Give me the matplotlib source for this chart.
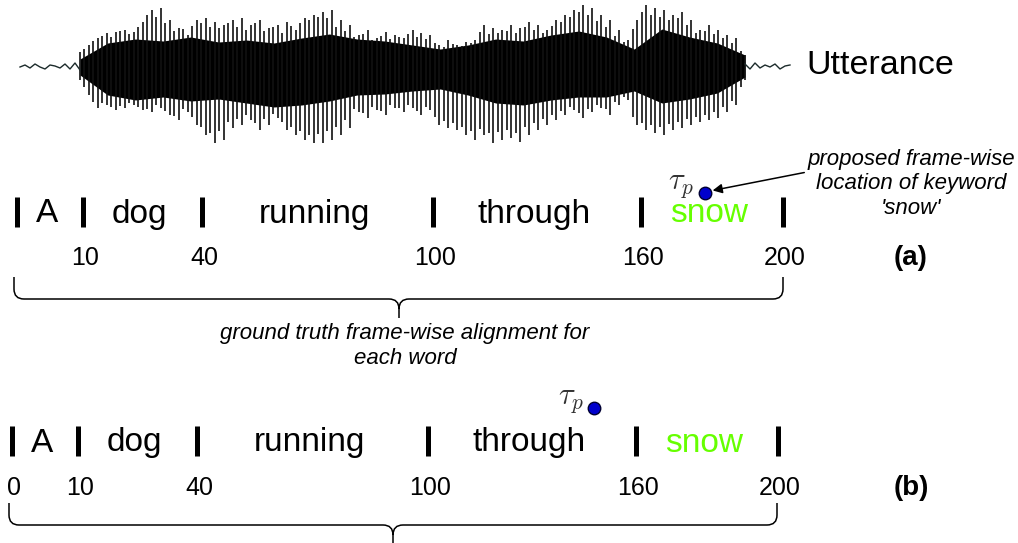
import numpy as np
import matplotlib.pyplot as plt
from matplotlib.path import Path
from matplotlib.patches import PathPatch

plt.rcParams['font.family'] = ['Liberation Sans', 'DejaVu Sans']
plt.rcParams['mathtext.fontset'] = 'cm'

# --- data ---
frames = [0, 10, 40, 100, 160, 200]
words = ['A', 'dog', 'running', 'through', 'snow']
keyword = 'snow'
tau_p = [178, 148]           # proposed keyword frame, (a) and (b)
labels_a = ['', '10', '40', '100', '160', '200']
labels_b = ['0', '10', '40', '100', '160', '200']

# waveform (amplitude, arbitrary units)
spike_top = [15, 22, 29, 34, 35, 37, 35, 45, 57, 59, 47, 39, 32, 47, 49, 45, 42, 47, 49, 42,
             47, 39, 42, 45, 37, 49, 52, 55, 57, 47, 42, 32, 37, 29, 35, 32, 29, 37, 34, 32,
             22, 27, 22, 25, 27, 42, 39, 37, 42, 39, 45, 42, 37, 47, 52, 57, 62, 59, 52, 47,
             37, 27, 47, 62, 59, 57, 52, 55, 47, 37, 42, 37, 32, 29, 12]
spike_bot = [-13, -28, -41, -38, -43, -41, -38, -43, -45, -41, -48, -53, -45, -58, -68, -76, -73, -61, -58, -53,
             -63, -58, -51, -63, -68, -73, -76, -76, -73, -68, -61, -45, -51, -43, -48, -41, -45, -41, -48, -43,
             -58, -61, -63, -68, -73, -68, -76, -73, -71, -75, -68, -63, -58, -53, -48, -43, -51, -45, -41, -48,
             -38, -33, -58, -63, -66, -68, -63, -61, -58, -55, -53, -51, -45, -38, -13]
mid_top = [18, 26, 31, 30, 36, 33, 40, 52, 50, 44, 36, 38, 41, 44, 40, 39, 44, 40, 37, 44,
           36, 40, 34, 41, 44, 47, 50, 49, 40, 36, 30, 33, 27, 31, 28, 30, 33, 30, 28, 24,
           20, 23, 21, 24, 35, 33, 34, 36, 34, 40, 37, 34, 41, 45, 50, 55, 52, 46, 40, 31,
           25, 38, 55, 52, 50, 47, 49, 42, 34, 36, 33, 29, 24, 16]
mid_bot = [-20, -35, -36, -40, -39, -36, -40, -42, -38, -44, -49, -42, -50, -60, -66, -64, -55, -52, -48, -56,
           -52, -47, -55, -60, -64, -68, -67, -64, -60, -53, -42, -46, -40, -44, -38, -41, -38, -44, -40, -50,
           -54, -56, -60, -64, -62, -66, -65, -63, -66, -60, -56, -52, -48, -44, -40, -46, -42, -38, -42, -35,
           -30, -50, -56, -58, -60, -57, -55, -52, -50, -48, -45, -40, -34, -20]
core_top = [8, 24, 28, 26, 30, 25, 27, 24, 29, 33, 28, 26, 22, 18, 22, 28, 26, 32, 36, 30, 18, 38, 30, 24, 12]
core_bot = [-8, -28, -33, -30, -34, -32, -36, -40, -38, -34, -28, -27, -24, -22, -28, -36, -38, -33, -30, -30,
            -24, -36, -32, -26, -10]
noise_l = [0, 2, -1, 3, 0, -2, 2, 1, -1, 3, -2, 4, -3]
noise_r = [3, -2, 4, -1, 2, 0, 3, -2, 1, 2]

# --- layout (diagram is not drawn to scale) ---
base_x = [17, 83, 202, 433, 641, 783]


def fx(f, shift=0):
    return np.interp(f, frames, base_x) + shift


def brace(ax, x0, x1, xm, ytop, ybar, ytip, r=10):
    verts = [(x0, ytop), (x0, ybar - r), (x0, ybar), (x0 + r, ybar),
             (xm - r, ybar), (xm, ybar), (xm, ybar + r), (xm, ytip),
             (xm, ybar + r), (xm, ybar), (xm + r, ybar),
             (x1 - r, ybar), (x1, ybar), (x1, ybar - r), (x1, ytop)]
    codes = [Path.MOVETO, Path.LINETO, Path.CURVE3, Path.CURVE3,
             Path.LINETO, Path.CURVE3, Path.CURVE3, Path.LINETO,
             Path.MOVETO, Path.CURVE3, Path.CURVE3,
             Path.LINETO, Path.CURVE3, Path.CURVE3, Path.LINETO]
    ax.add_patch(PathPatch(Path(verts, codes), fill=False, lw=1.1, color='black'))


fig = plt.figure(figsize=(10.18, 5.43), dpi=100)
ax = fig.add_axes([0, 0, 1, 1])
ax.set_xlim(0, 1018)
ax.set_ylim(543, 0)
ax.axis('off')

# waveform
aw = fig.add_axes([18 / 1018, 1 - 150 / 543, (792 - 18) / 1018, 150 / 543])
aw.set_xlim(18, 792)
aw.set_ylim(-83, 67)
aw.axis('off')
t = np.linspace(80, 745, len(spike_top))
tm = (t[:-1] + t[1:]) / 2
aw.fill_between(np.linspace(80, 745, len(core_top)), core_bot, core_top, color='black', lw=0)
aw.vlines(t, spike_bot, spike_top, color='#111111', lw=1.2)
aw.vlines(tm, mid_bot, mid_top, color='#111111', lw=1.2)
aw.plot(np.linspace(20, 80, len(noise_l)), noise_l, color='#1c2b2b', lw=1)
aw.plot(np.linspace(745, 790, len(noise_r)), noise_r, color='#1c2b2b', lw=1)
ax.text(806, 66, 'Utterance', fontsize=24.5, va='center', ha='left')

rows = [dict(shift=0, ybar=212, ynum=258, tau=tau_p[0], ydot=193, labels=labels_a, tag='(a)'),
        dict(shift=-5, ybar=441, ynum=488, tau=tau_p[1], ydot=408, labels=labels_b, tag='(b)')]

for row in rows:
    xs = fx(frames, row['shift'])
    ax.vlines(xs, row['ybar'] - 15, row['ybar'] + 15, color='black', lw=3.6)
    for i, w in enumerate(words):
        xm = (xs[i] + xs[i + 1]) / 2 - 3
        ax.text(xm, row['ybar'] + 2, w, fontsize=24, ha='center', va='center',
                color='#66ff00' if w == keyword else 'black')
    for x, lab in zip(xs, row['labels']):
        ax.text(x + 2, row['ynum'], lab, fontsize=18, ha='center', va='center')
    ax.text(911, row['ynum'], row['tag'], fontsize=20, fontweight='bold', ha='center', va='center')
    xd = fx(row['tau'], row['shift'])
    ax.plot(xd, row['ydot'], 'o', ms=9, mfc='#0000cc', mec='#000033', mew=1)
    ax.text(xd - 11, row['ydot'] - 8, r'$\tau_p$', fontsize=22, color='#333333',
            ha='right', va='center')

brace(ax, 14, 783, 399, 277, 299, 318)
brace(ax, 9, 777, 393, 503, 525, 560)

ax.text(405, 346, 'ground truth frame-wise alignment for\neach word', fontsize=16,
        style='italic', ha='center', va='center', linespacing=1.3)
ax.text(911, 184, "proposed frame-wise\nlocation of keyword\n'snow'", fontsize=16,
        style='italic', ha='center', va='center', linespacing=1.25)
ax.annotate('', xy=(fx(tau_p[0]) + 5, 191), xytext=(807, 172),
            arrowprops=dict(arrowstyle='-|>', color='black', lw=1.1, mutation_scale=14))

fig.savefig('out.png', dpi=100)
